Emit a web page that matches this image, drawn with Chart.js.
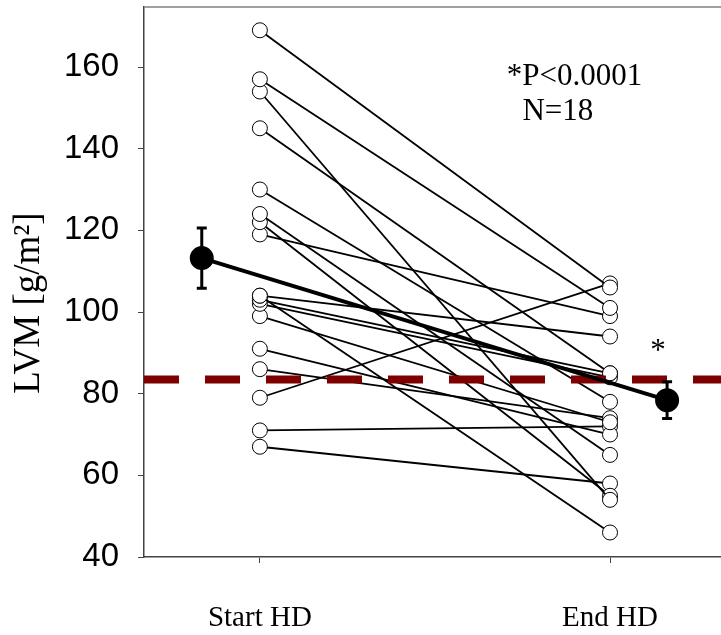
<!DOCTYPE html>
<html lang="en">
<head>
    <meta charset="UTF-8">
    <title>LVM Start HD vs End HD</title>
    <script src="https://cdn.jsdelivr.net/npm/chart.js"></script>
    <style>
        body {
            margin: 0;
            padding: 0;
            background: white;
        }
        #wrap {
            width: 721px;
            height: 635px;
        }
    </style>
</head>
<body>

<div id="wrap">
    <canvas id="lvmChart" width="721" height="635"></canvas>
</div>

<script>
    // values (g/m2), one pair per patient
    const groups = ['Start HD', 'End HD'];
    const startLVM = [169, 157, 154, 145, 130, 124, 122, 119, 104, 104, 103, 102, 99, 91, 86, 79, 71, 67];
    const endLVM = [106, 101, 54, 85, 78, 65, 55, 99, 94, 46, 85, 84, 73, 70, 74, 107, 72, 58];
    const meanLVM = [113.2, 78.4];
    const errLVM = [7.4, 4.5];
    const refLVM = 83.5;
    const yTicks = [40, 60, 80, 100, 120, 140, 160];

    const xMin = 0.669, xMax = 2.317;
    const meanOffset = [-0.166, 0.163];   // mean markers sit beside the groups

    const datasets = [];

    startLVM.forEach((s, i) => {
        datasets.push({
            data: [{x: 1, y: s}, {x: 2, y: endLVM[i]}],
            borderColor: '#000',
            borderWidth: 1.8,
            pointRadius: 7.5,
            pointBackgroundColor: '#fff',
            pointBorderColor: '#000',
            pointBorderWidth: 1,
            order: 3
        });
    });

    datasets.push({
        data: [{x: xMin, y: refLVM}, {x: xMax, y: refLVM}],
        borderColor: '#7f0000',
        borderWidth: 8,
        borderDash: [35, 26],
        pointRadius: 0,
        order: 2
    });

    datasets.push({
        data: meanLVM.map((m, i) => ({x: i + 1 + meanOffset[i], y: m})),
        borderColor: '#000',
        borderWidth: 4,
        pointRadius: 10,
        pointBackgroundColor: '#000',
        pointBorderColor: '#000',
        order: 1
    });

    // error bars, frame top line, texts
    const extras = {
        id: 'extras',
        afterDatasetsDraw(chart) {
            const ctx = chart.ctx;
            const xs = chart.scales.x, ys = chart.scales.y;
            const area = chart.chartArea;

            ctx.save();
            ctx.strokeStyle = '#000';
            ctx.lineWidth = 3;
            meanLVM.forEach((m, i) => {
                const px = xs.getPixelForValue(i + 1 + meanOffset[i]);
                const top = ys.getPixelForValue(m + errLVM[i]);
                const bot = ys.getPixelForValue(m - errLVM[i]);
                ctx.beginPath();
                ctx.moveTo(px, top); ctx.lineTo(px, bot);
                ctx.moveTo(px - 5, top); ctx.lineTo(px + 5, top);
                ctx.moveTo(px - 5, bot); ctx.lineTo(px + 5, bot);
                ctx.stroke();
            });

            ctx.strokeStyle = '#808080';
            ctx.lineWidth = 1.5;
            ctx.beginPath();
            ctx.moveTo(area.left, area.top);
            ctx.lineTo(area.right, area.top);
            ctx.stroke();

            ctx.fillStyle = '#000';
            ctx.font = '31px "Liberation Serif", "Times New Roman", serif';
            ctx.textAlign = 'left';
            ctx.textBaseline = 'alphabetic';
            ctx.fillText('*P<0.0001', xs.getPixelForValue(1.705), ys.getPixelForValue(155.6));
            ctx.fillText('N=18', xs.getPixelForValue(1.75), ys.getPixelForValue(147));
            ctx.textAlign = 'center';
            ctx.fillText('*', xs.getPixelForValue(2.137), ys.getPixelForValue(88.2));

            ctx.translate(29, (area.top + area.bottom) / 2 + 21);
            ctx.rotate(-Math.PI / 2);
            ctx.textBaseline = 'middle';
            ctx.font = '37px "Liberation Serif", "Times New Roman", serif';
            ctx.fillText('LVM [g/m²]', 0, 0);
            ctx.restore();
        }
    };

    new Chart(document.getElementById('lvmChart'), {
        type: 'line',
        data: { datasets: datasets },
        options: {
            responsive: false,
            animation: false,
            layout: { autoPadding: false, padding: { top: 7, right: 0, left: 0, bottom: 0 } },
            plugins: {
                legend: { display: false },
                tooltip: { enabled: false }
            },
            scales: {
                x: {
                    type: 'linear',
                    min: xMin,
                    max: xMax,
                    afterBuildTicks: scale => { scale.ticks = groups.map((g, i) => ({value: i + 1})); },
                    afterFit: scale => {
                        scale.height = 78;
                        scale.paddingLeft = 0;
                        scale.paddingRight = 0;
                    },
                    border: { display: true, color: '#444', width: 1.5 },
                    grid: { display: true, drawOnChartArea: false, drawTicks: true, tickLength: 6, color: '#444' },
                    ticks: {
                        autoSkip: false,
                        maxRotation: 0,
                        padding: 38,
                        color: '#000',
                        font: { family: '"Liberation Serif", "Times New Roman", serif', size: 29 },
                        callback: v => groups[Math.round(v) - 1]
                    }
                },
                y: {
                    min: 40,
                    max: 174.7,
                    afterBuildTicks: scale => { scale.ticks = yTicks.map(v => ({value: v})); },
                    afterFit: scale => {
                        scale.width = 144;
                        scale.paddingTop = 0;
                        scale.paddingBottom = 0;
                    },
                    border: { display: true, color: '#444', width: 1.5 },
                    grid: { display: true, drawOnChartArea: false, drawTicks: true, tickLength: 6, color: '#444' },
                    ticks: {
                        padding: 19,
                        color: '#000',
                        font: { family: '"Liberation Sans", Arial, sans-serif', size: 33 }
                    }
                }
            }
        },
        plugins: [extras]
    });
</script>

</body>
</html>
